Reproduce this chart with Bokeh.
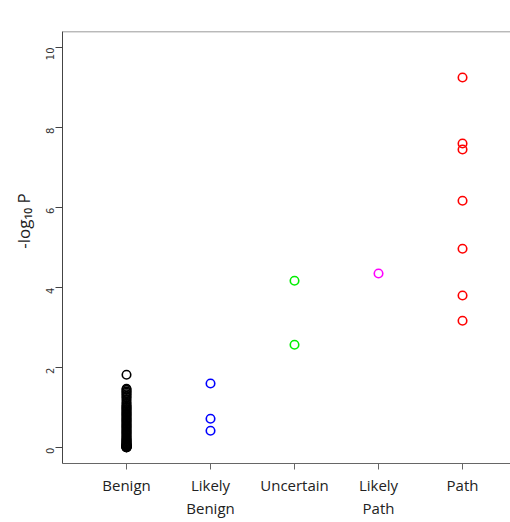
import math
from bokeh.plotting import figure
from bokeh.models import FixedTicker, Range1d, Span
from bokeh.embed import file_html
from bokeh.resources import INLINE

categories = ["Benign", "Likely\nBenign", "Uncertain", "Likely\nPath", "Path"]
colors = ["#000000", "#0000ff", "#00ee00", "#ff00ff", "#ff0000"]

benign = [1.82, 1.47, 1.44, 1.40, 1.37, 1.33, 1.29, 1.25, 1.20, 1.14, 1.09,
          1.05, 1.02, 0.99, 0.96, 0.93, 0.90, 0.87, 0.84, 0.81, 0.78, 0.75,
          0.72, 0.69, 0.66, 0.63, 0.60, 0.57, 0.54, 0.51, 0.48, 0.45, 0.42,
          0.39, 0.36, 0.33, 0.30, 0.27, 0.24, 0.21, 0.19, 0.17, 0.15, 0.13,
          0.11, 0.09, 0.08, 0.07, 0.06, 0.05, 0.04, 0.03, 0.02, 0.015, 0.01,
          0.005, 0.002]
likely_benign = [1.60, 0.72, 0.42]
uncertain = [4.17, 2.57]
likely_path = [4.35]
path = [9.25, 7.60, 7.45, 6.17, 4.97, 3.80, 3.17]

series = [benign, likely_benign, uncertain, likely_path, path]
y_ticks = [0, 2, 4, 6, 8, 10]

p = figure(width=510, height=522, output_backend="svg", toolbar_location=None,
           x_range=Range1d(0.238, 5.571), y_range=Range1d(-0.4, 10.4),
           min_border_left=62, min_border_top=31, min_border_bottom=59,
           min_border_right=0)
p.grid.visible = False
p.outline_line_color = None
p.background_fill_color = "white"

for i, (vals, c) in enumerate(zip(series, colors)):
    p.scatter([i + 1] * len(vals), vals, marker="circle", size=8.5,
              fill_color=None, line_color=c, line_width=1.6)

# top line of the box
p.add_layout(Span(location=10.395, dimension="width", line_color="#555555",
                  line_width=1))

# x axis
xa = p.xaxis[0]
xa.ticker = FixedTicker(ticks=[1, 2, 3, 4, 5])
xa.major_label_overrides = {i + 1: c for i, c in enumerate(categories)}
xa.minor_tick_line_color = None
xa.major_tick_out = 6
xa.major_tick_in = 0
xa.axis_line_color = "#666666"
xa.major_tick_line_color = "#666666"
xa.major_label_text_font = "Open Sans"
xa.major_label_text_font_size = "15px"
xa.major_label_text_color = "#222222"
xa.major_label_standoff = 5
xa.major_label_text_line_height = 1.15

# y axis
ya = p.yaxis[0]
ya.ticker = FixedTicker(ticks=y_ticks)
ya.minor_tick_line_color = None
ya.major_tick_out = 7
ya.major_tick_in = 0
ya.axis_line_color = "#444444"
ya.major_tick_line_color = "#444444"
ya.major_label_orientation = math.pi / 2
ya.major_label_text_font = "DejaVu Sans"
ya.major_label_text_font_size = "10px"
ya.major_label_text_color = "#333333"
ya.major_label_standoff = 6
ya.axis_label = "\u00a0" * 12 + "-log\u2081\u2080 P"
ya.axis_label_text_font = "Open Sans"
ya.axis_label_text_font_style = "normal"
ya.axis_label_text_font_size = "17px"
ya.axis_label_text_color = "#222222"
ya.axis_label_standoff = 4

open("out.html", "w").write(file_html(p, INLINE))
